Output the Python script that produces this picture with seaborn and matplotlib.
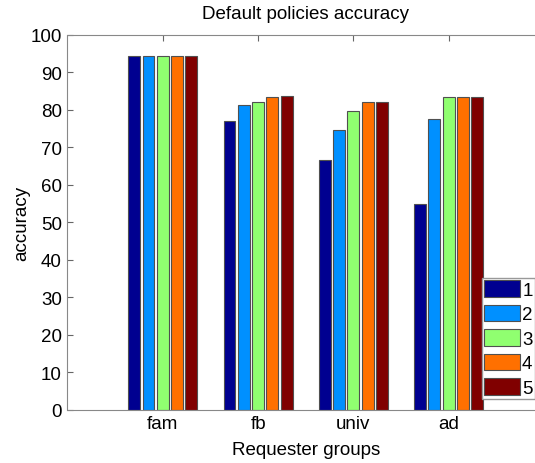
import matplotlib
matplotlib.use("Agg")
import matplotlib.pyplot as plt
import seaborn as sns
import pandas as pd

groups = ["fam", "fb", "univ", "ad"]
series = ["1", "2", "3", "4", "5"]
vals_1 = [94.5, 77.1, 66.6, 54.8]
vals_2 = [94.5, 81.2, 74.7, 77.5]
vals_3 = [94.5, 82.0, 79.6, 83.4]
vals_4 = [94.5, 83.4, 82.0, 83.4]
vals_5 = [94.5, 83.6, 82.0, 83.5]
colors = ["#000090", "#0090ff", "#90ff70", "#ff7000", "#800000"]
yticks = [0, 10, 20, 30, 40, 50, 60, 70, 80, 90, 100]

rows = []
for s, vals in zip(series, [vals_1, vals_2, vals_3, vals_4, vals_5]):
    for g, v in zip(groups, vals):
        rows.append({"group": g, "series": s, "accuracy": v})
df = pd.DataFrame(rows)

sns.set_style("white")
plt.rcParams["font.family"] = ["Liberation Sans", "DejaVu Sans"]
plt.rcParams["font.size"] = 13.5
plt.rcParams["text.color"] = "black"
plt.rcParams["axes.labelcolor"] = "black"
plt.rcParams["xtick.color"] = "#666666"
plt.rcParams["ytick.color"] = "#666666"
plt.rcParams["xtick.labelcolor"] = "black"
plt.rcParams["ytick.labelcolor"] = "black"

FS = 13.5
W, H = 535, 464
fig = plt.figure(figsize=(W / 100, H / 100), dpi=100)
left, right, top, bottom = 67.5, 544, 36, 410.7
ax = fig.add_axes([left / W, 1 - bottom / H, (right - left) / W, (bottom - top) / H])

sns.barplot(data=df, x="group", y="accuracy", hue="series", order=groups,
            hue_order=series, palette=colors, width=0.75, gap=0.17,
            edgecolor="#505050", linewidth=0.8, ax=ax, errorbar=None,
            saturation=1)

ax.set_xlim(-1, 4)
ax.set_ylim(0, 100)
ax.set_yticks(yticks)
ax.set_title("Default policies accuracy", fontsize=FS, pad=12, color="black")
ax.set_xlabel("Requester groups", fontsize=FS, labelpad=6, color="black")
ax.set_ylabel("accuracy", fontsize=FS, labelpad=0, color="black")
for sp in ax.spines.values():
    sp.set_visible(True)
    sp.set_color("#888888")
    sp.set_linewidth(0.8)
ax.tick_params(direction="in", length=4, width=0.8, color="#666666",
               top=True, right=True, bottom=True, left=True,
               labelsize=FS, pad=4, labelcolor="black")

handles, labels = ax.get_legend_handles_labels()
ax.legend(handles, labels, loc="upper left",
          bbox_to_anchor=(482 / W, 1 - 279 / H), bbox_transform=fig.transFigure,
          fontsize=FS, frameon=True, fancybox=False, framealpha=1,
          edgecolor="#999999", handlelength=1.9, handleheight=1.0,
          labelspacing=0.3, handletextpad=0.12, borderpad=0.12,
          borderaxespad=0, title=None)

fig.savefig("out.png", dpi=100)
